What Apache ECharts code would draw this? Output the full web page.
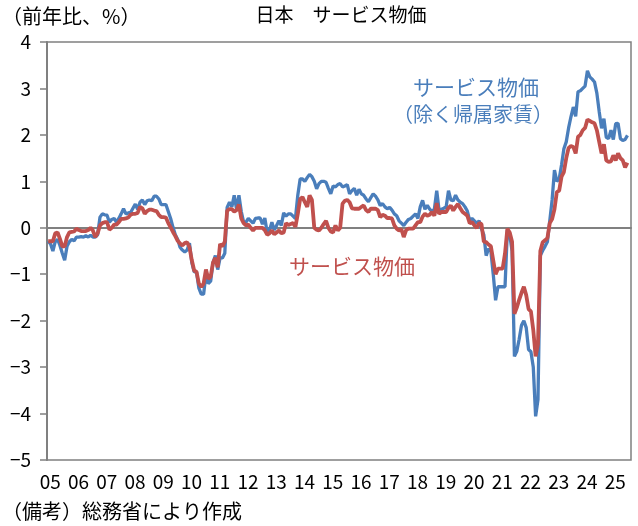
<!DOCTYPE html>
<html><head><meta charset="utf-8">
<script src="https://cdn.jsdelivr.net/npm/echarts@6/dist/echarts.min.js"></script>
<style>html,body{margin:0;padding:0;background:#fff}#c{width:638px;height:526px}</style>
</head><body><div id="c"></div>
<script>
// Monthly categories: Jan 2005 .. Aug 2025
const startYear = 2005;
const monthCount = 248;
const yearLabels = ['05','06','07','08','09','10','11','12','13','14','15','16','17','18','19','20','21','22','23','24','25'];

// サービス物価（除く帰属家賃）, y/y %
const servicesExRent = [
 -0.29,-0.35,-0.50,-0.30,-0.25,-0.38,-0.55,-0.70,-0.40,-0.30,
 -0.25,-0.28,-0.20,-0.20,-0.19,-0.20,-0.17,-0.20,-0.16,-0.20,
 -0.20,-0.15,0.23,0.30,0.28,0.27,0.12,0.18,0.20,0.12,
 0.20,0.30,0.41,0.30,0.32,0.33,0.42,0.51,0.40,0.55,
 0.60,0.50,0.58,0.60,0.58,0.68,0.68,0.62,0.50,0.50,
 0.50,0.35,0.20,0.01,-0.15,-0.25,-0.42,-0.48,-0.52,-0.48,
 -0.33,-0.75,-0.95,-0.95,-1.30,-1.43,-1.43,-1.00,-1.20,-1.15,
 -0.75,-0.60,-0.90,-0.65,-0.65,-0.55,0.44,0.55,0.45,0.70,
 0.40,0.70,0.35,0.12,0.12,0.20,0.15,0.10,0.20,0.21,
 0.21,0.08,0.21,-0.10,-0.05,0.12,-0.05,0.05,0.15,0.05,
 0.32,0.25,0.30,0.30,0.25,0.20,0.70,1.05,1.05,1.00,
 1.08,1.15,1.10,1.00,0.84,0.95,1.00,1.00,0.98,0.85,
 0.73,0.90,0.88,0.93,0.95,0.88,0.90,0.93,0.73,0.80,
 0.85,0.70,0.83,0.73,0.70,0.62,0.56,0.65,0.73,0.68,
 0.60,0.48,0.52,0.45,0.41,0.44,0.38,0.30,0.26,0.15,
 0.10,0.05,0.12,0.18,0.20,0.25,0.30,0.20,0.45,0.59,
 0.40,0.48,0.40,0.35,0.40,0.80,0.38,0.40,0.42,0.45,
 0.80,0.60,0.58,0.70,0.60,0.55,0.52,0.45,0.36,0.16,
 0.20,0.15,0.10,0.15,-0.02,-0.15,-0.60,-0.45,-0.50,-1.00,
 -1.56,-1.27,-1.27,-1.27,-1.27,-0.05,-0.15,-0.50,-2.77,-2.66,
 -2.40,-2.10,-2.00,-2.15,-2.62,-2.67,-3.00,-4.06,-3.70,-0.60,
 -0.49,-0.40,-0.30,0.15,0.60,1.24,1.00,1.05,1.35,1.70,
 1.85,2.15,2.39,2.60,2.40,2.93,2.95,3.00,3.05,3.38,
 3.25,3.20,3.14,2.90,2.50,2.14,2.35,1.95,1.92,2.10,
 1.90,2.24,2.25,1.92,1.88,1.90,1.99
];

// サービス物価, y/y %
const services = [
 -0.29,-0.29,-0.29,-0.12,-0.10,-0.24,-0.40,-0.40,-0.20,-0.10,
 -0.09,-0.08,-0.02,-0.05,-0.07,-0.07,-0.07,-0.05,0.00,-0.06,
 -0.20,-0.12,0.05,0.10,0.12,0.12,-0.04,0.00,0.07,0.07,
 0.12,0.19,0.19,0.20,0.22,0.28,0.30,0.30,0.32,0.45,
 0.42,0.30,0.36,0.39,0.39,0.37,0.36,0.28,0.23,0.23,
 0.22,0.10,0.01,-0.09,-0.18,-0.28,-0.34,-0.38,-0.33,-0.31,
 -0.42,-0.70,-0.92,-0.95,-1.20,-1.27,-1.20,-0.90,-1.10,-1.05,
 -0.75,-0.65,-0.85,-0.35,-0.40,-0.30,0.37,0.40,0.40,0.35,
 0.38,0.50,0.20,0.10,0.05,0.07,0.00,-0.06,0.00,0.00,
 0.00,0.00,-0.05,-0.15,-0.12,-0.06,-0.14,-0.10,-0.06,-0.12,
 -0.10,0.10,0.06,0.08,0.10,0.02,0.30,0.62,0.66,0.55,
 0.45,0.70,0.60,0.00,-0.04,-0.06,0.00,0.08,0.15,0.00,
 -0.08,-0.10,0.05,-0.06,0.00,0.52,0.58,0.60,0.55,0.42,
 0.41,0.41,0.41,0.45,0.48,0.38,0.34,0.41,0.41,0.41,
 0.38,0.23,0.28,0.26,0.21,0.21,0.20,0.05,-0.02,-0.06,
 -0.03,-0.20,-0.05,-0.02,-0.02,-0.02,0.05,0.12,0.12,0.24,
 0.30,0.26,0.28,0.34,0.26,0.53,0.30,0.34,0.34,0.34,
 0.43,0.48,0.37,0.45,0.51,0.42,0.34,0.30,0.26,0.10,
 0.12,0.05,0.00,0.10,0.08,-0.30,-0.31,-0.36,-0.40,-0.70,
 -1.00,-0.88,-0.88,-0.88,-0.55,-0.02,-0.10,-0.30,-1.85,-1.72,
 -1.55,-1.40,-1.27,-1.45,-1.75,-1.80,-2.20,-2.77,-2.50,-0.50,
 -0.31,-0.27,-0.22,0.10,0.19,0.40,0.77,0.80,1.10,1.20,
 1.50,1.72,1.76,1.74,1.60,1.96,2.00,2.10,2.15,2.33,
 2.30,2.27,2.25,2.10,1.85,1.60,1.80,1.45,1.42,1.43,
 1.56,1.45,1.60,1.50,1.45,1.30,1.40
];

const months = [];
for (let i = 0; i < monthCount; i++) {
  const y = startYear + Math.floor(i / 12), m = (i % 12) + 1;
  months.push(y + '-' + (m < 10 ? '0' : '') + m);
}

const FONT = '"Noto Sans CJK JP", "Noto Sans", sans-serif';
const BLUE = '#4a7ebb', RED = '#c0504d', GRAY = '#808080';
const T = 'rgba(0,0,0,0)';
const splitColors = [T, T, T, T, T, '#a0a0a0', T, T, T, T];

const chart = echarts.init(document.getElementById('c'), null, {renderer: 'canvas'});
chart.setOption({
  animation: false,
  backgroundColor: '#fff',
  grid: {left: 47, right: 7, top: 42, bottom: 66, show: true, borderColor: GRAY, borderWidth: 1.5, backgroundColor: 'transparent'},
  xAxis: {
    type: 'category', data: months, boundaryGap: true,
    axisLine: {show: true, lineStyle: {color: GRAY, width: 2}},
    axisTick: {show: false},
    splitLine: {show: false},
    axisLabel: {
      interval: function (idx) { return idx % 12 === 0; },
      formatter: function (v, idx) { return '{a|' + yearLabels[Math.round(idx / 12)] + '}'; },
      rich: {a: {color: '#000', fontFamily: FONT, fontSize: 19, padding: [0, 0, 0, 4]}},
      color: '#000', fontFamily: FONT, fontSize: 19, margin: 12
    }
  },
  yAxis: {
    type: 'value', min: -5, max: 4, interval: 1,
    axisLine: {show: true, lineStyle: {color: GRAY, width: 2}},
    axisTick: {show: true, inside: false, length: 7, lineStyle: {color: GRAY, width: 1.5}},
    splitLine: {show: true, lineStyle: {color: splitColors, width: 2}},
    axisLabel: {
      formatter: function (v) { return v < 0 ? '\u2212' + Math.abs(v) : String(v); },
      color: '#000', fontFamily: FONT, fontSize: 19, margin: 16
    }
  },
  series: [
    {type: 'line', name: 'サービス物価（除く帰属家賃）', data: servicesExRent, showSymbol: false, symbol: 'none',
     lineStyle: {color: BLUE, width: 3.3}, itemStyle: {color: BLUE}, z: 3},
    {type: 'line', name: 'サービス物価', data: services, showSymbol: false, symbol: 'none',
     lineStyle: {color: RED, width: 3.8}, itemStyle: {color: RED}, z: 4}
  ],
  graphic: [
    {type: 'text', x: 2, y: 16, style: {text: '（前年比、%）', font: '20px ' + FONT, fill: '#000', textVerticalAlign: 'middle'}},
    {type: 'text', x: 341, y: 15, style: {text: '日本　サービス物価', font: '19px ' + FONT, fill: '#000', textAlign: 'center', textVerticalAlign: 'middle'}},
    {type: 'text', x: 2, y: 511, style: {text: '（備考）総務省により作成', font: '20px ' + FONT, fill: '#000', textVerticalAlign: 'middle'}},
    {type: 'text', x: 476, y: 87, style: {text: 'サービス物価', font: '21px ' + FONT, fill: BLUE, textAlign: 'center', textVerticalAlign: 'middle'}},
    {type: 'text', x: 473, y: 114, style: {text: '（除く帰属家賃）', font: '20px ' + FONT, fill: BLUE, textAlign: 'center', textVerticalAlign: 'middle'}},
    {type: 'text', x: 352, y: 266, style: {text: 'サービス物価', font: '21px ' + FONT, fill: RED, textAlign: 'center', textVerticalAlign: 'middle'}}
  ]
});
</script>
</body></html>
